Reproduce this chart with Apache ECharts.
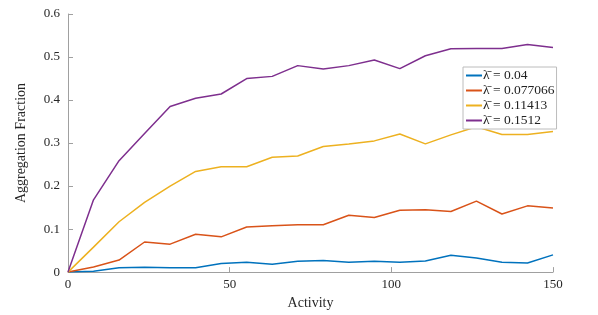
<!DOCTYPE html>
<html>
<head>
<meta charset="utf-8">
<script src="https://cdn.jsdelivr.net/npm/echarts@6/dist/echarts.min.js"></script>
<style>
  html, body { margin: 0; padding: 0; background: #fff; }
  #chart { width: 598px; height: 315px; }
</style>
</head>
<body>
<div id="chart"></div>
<script>
// activity values (20 samples, 0..150)
var activity = [0, 7.89, 15.79, 23.68, 31.58, 39.47, 47.37, 55.26, 63.16, 71.05,
  78.95, 86.84, 94.74, 102.63, 110.53, 118.42, 126.32, 134.21, 142.11, 150];

var lam004 = [0, 0.002, 0.010, 0.011, 0.010, 0.010, 0.020, 0.023, 0.018, 0.025,
  0.027, 0.023, 0.025, 0.023, 0.026, 0.039, 0.033, 0.023, 0.021, 0.040];
var lam0077 = [0, 0.012, 0.028, 0.070, 0.065, 0.088, 0.082, 0.105, 0.108, 0.110,
  0.110, 0.132, 0.127, 0.144, 0.145, 0.141, 0.165, 0.135, 0.154, 0.149];
var lam0114 = [0, 0.058, 0.117, 0.162, 0.200, 0.234, 0.245, 0.245, 0.267, 0.270,
  0.292, 0.298, 0.305, 0.321, 0.298, 0.319, 0.338, 0.320, 0.320, 0.327];
var lam0151 = [0, 0.168, 0.259, 0.322, 0.385, 0.404, 0.414, 0.450, 0.455, 0.480,
  0.472, 0.480, 0.493, 0.473, 0.503, 0.519, 0.520, 0.520, 0.529, 0.522];

var seriesNames = ['\u03bb\u0304 = 0.04', '\u03bb\u0304 = 0.077066', '\u03bb\u0304 = 0.11413', '\u03bb\u0304 = 0.1512'];
var colors = ['#0072BD', '#D95319', '#EDB120', '#7E2F8E'];

function pairs(ys) {
  return activity.map(function (x, i) { return [x, ys[i]]; });
}

var font = 'Liberation Serif';
var chart = echarts.init(document.getElementById('chart'));

var allData = [lam004, lam0077, lam0114, lam0151];
chart.setOption({
  animation: false,
  color: colors,
  grid: { left: 68, right: 45, top: 14, bottom: 37 },
  legend: {
    orient: 'vertical',
    left: 463,
    top: 67,
    backgroundColor: '#fff',
    borderColor: '#bcbcbc',
    borderWidth: 1,
    borderRadius: 0,
    padding: [1, 2, 1, 3],
    itemGap: 0,
    icon: 'rect',
    itemWidth: 16,
    itemHeight: 2,
    textStyle: { fontFamily: font, fontSize: 13.5, lineHeight: 15, color: '#222', padding: [0, 0, 0, -4] },
    data: seriesNames
  },
  xAxis: {
    type: 'value',
    min: 0, max: 150, interval: 50,
    name: 'Activity',
    nameLocation: 'middle',
    nameGap: 22,
    nameTextStyle: { fontFamily: font, fontSize: 14, color: '#262626' },
    axisLine: { lineStyle: { color: '#a0a0a0' } },
    axisTick: { inside: true, length: 5, lineStyle: { color: '#a0a0a0' } },
    axisLabel: { fontFamily: font, fontSize: 13, color: '#262626', margin: 6 },
    splitLine: { show: false }
  },
  yAxis: {
    type: 'value',
    min: 0, max: 0.6, interval: 0.1,
    name: 'Aggregation Fraction',
    nameLocation: 'middle',
    nameGap: 40,
    nameTextStyle: { fontFamily: font, fontSize: 14, color: '#262626' },
    axisLine: { show: true, lineStyle: { color: '#a0a0a0' } },
    axisTick: { show: true, inside: true, length: 5, lineStyle: { color: '#a0a0a0' } },
    axisLabel: { fontFamily: font, fontSize: 13, color: '#262626', margin: 8 },
    splitLine: { show: false }
  },
  series: allData.map(function (d, i) {
    return {
      name: seriesNames[i],
      type: 'line',
      data: pairs(d),
      symbol: 'none',
      lineStyle: { width: 1.5, color: colors[i] },
      itemStyle: { color: colors[i] }
    };
  })
});
</script>
</body>
</html>
